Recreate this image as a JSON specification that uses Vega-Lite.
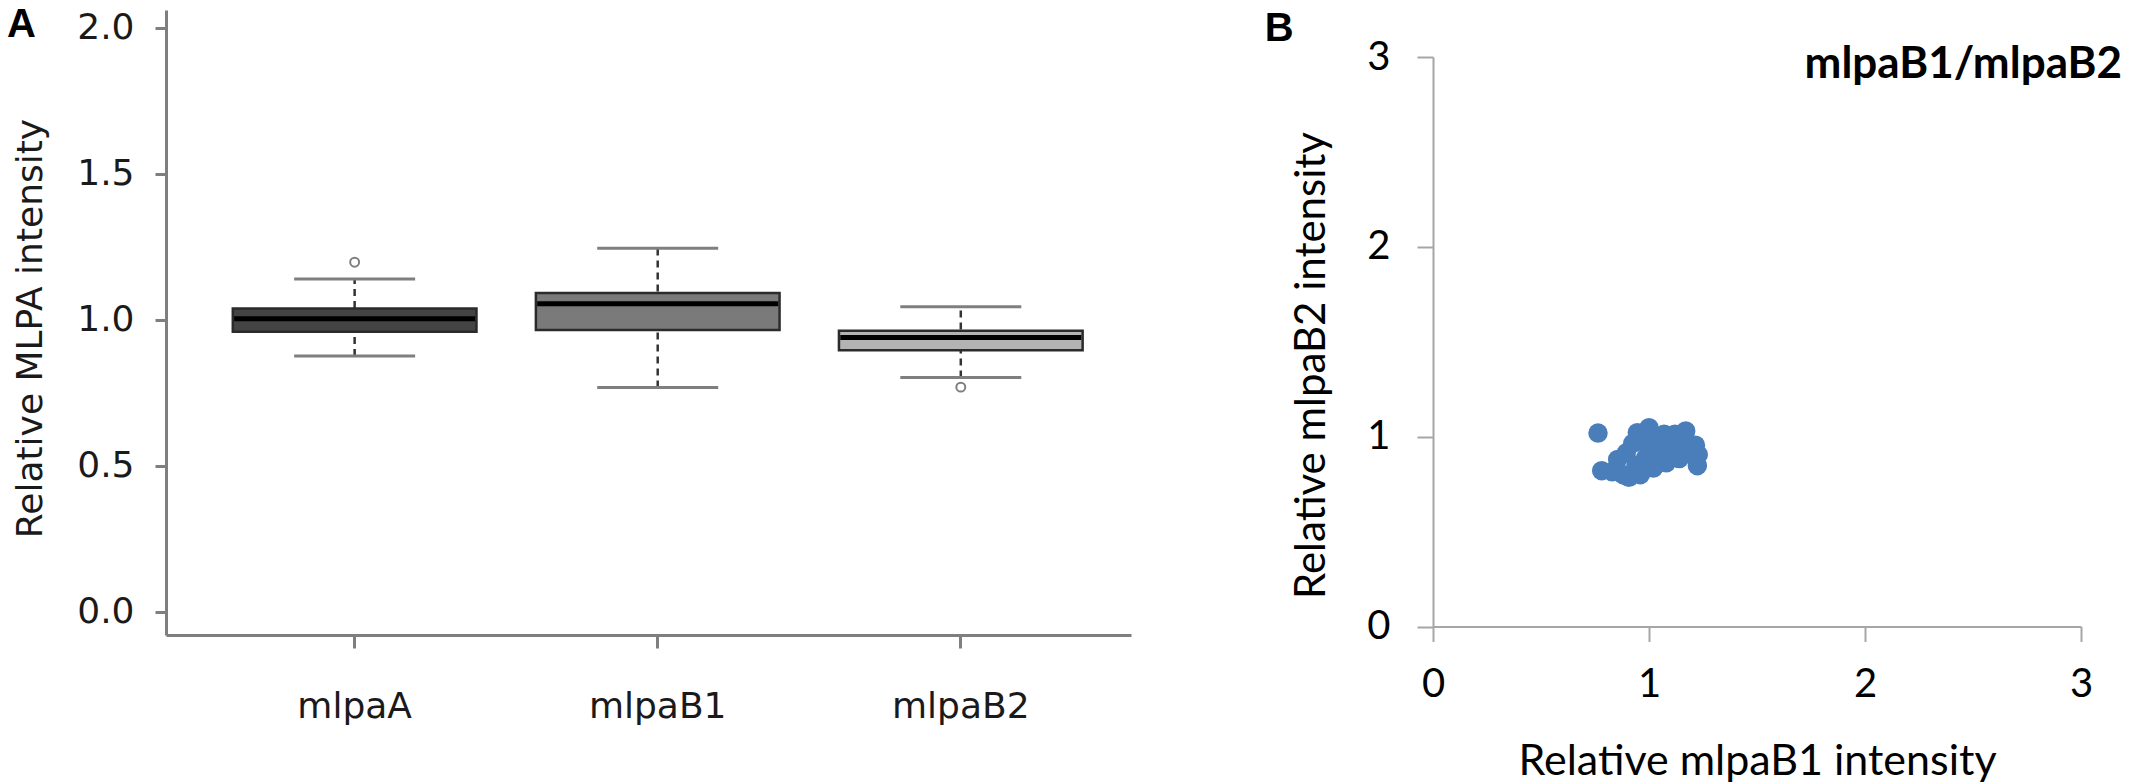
{
  "$schema": "https://vega.github.io/schema/vega-lite/v6.json",
  "background": "white",
  "padding": {"left": 7, "top": 4, "right": 0, "bottom": 0},
  "autosize": {"type": "pad"},
  "spacing": 133,
  "config": {"view": {"stroke": null}},
  "datasets": {
    "box": [
      {"gene": "mlpaA", "lower": 0.877, "q1": 0.960, "median": 1.004, "q3": 1.039, "upper": 1.140},
      {"gene": "mlpaB1", "lower": 0.769, "q1": 0.966, "median": 1.056, "q3": 1.092, "upper": 1.246},
      {"gene": "mlpaB2", "lower": 0.803, "q1": 0.896, "median": 0.940, "q3": 0.963, "upper": 1.045}
    ],
    "outliers": [
      {"gene": "mlpaA", "value": 1.198},
      {"gene": "mlpaB2", "value": 0.770}
    ],
    "scatter": [
      {"b1": 0.764, "b2": 1.019},
      {"b1": 0.781, "b2": 0.821},
      {"b1": 0.830, "b2": 0.815},
      {"b1": 0.880, "b2": 0.800},
      {"b1": 0.907, "b2": 0.786},
      {"b1": 0.960, "b2": 0.800},
      {"b1": 1.020, "b2": 0.835},
      {"b1": 1.080, "b2": 0.862},
      {"b1": 1.140, "b2": 0.885},
      {"b1": 1.224, "b2": 0.847},
      {"b1": 1.228, "b2": 0.905},
      {"b1": 1.215, "b2": 0.955},
      {"b1": 1.170, "b2": 1.030},
      {"b1": 1.120, "b2": 1.013},
      {"b1": 1.070, "b2": 1.013},
      {"b1": 1.000, "b2": 1.047},
      {"b1": 0.946, "b2": 1.021},
      {"b1": 0.925, "b2": 0.965},
      {"b1": 0.895, "b2": 0.915},
      {"b1": 0.855, "b2": 0.880},
      {"b1": 0.985, "b2": 0.970},
      {"b1": 1.050, "b2": 0.960},
      {"b1": 0.985, "b2": 0.890},
      {"b1": 1.130, "b2": 0.970},
      {"b1": 0.940, "b2": 0.850},
      {"b1": 1.030, "b2": 0.920},
      {"b1": 1.100, "b2": 0.925},
      {"b1": 1.180, "b2": 0.910},
      {"b1": 1.010, "b2": 1.000},
      {"b1": 1.160, "b2": 0.960}
    ]
  },
  "hconcat": [
    {
      "width": 965,
      "height": 625,
      "title": {"text": "A", "anchor": "start", "frame": "group", "dx": -159, "offset": -35, "font": "Liberation Sans", "fontSize": 40, "fontWeight": "bold", "color": "#000000"},
      "encoding": {
        "x": {
          "field": "gene", "type": "nominal", "sort": null,
          "scale": {"domain": ["mlpaA", "mlpaB1", "mlpaB2"], "paddingInner": 0.196, "paddingOuter": 0.19, "align": 0.58},
          "axis": {"title": null, "labelAngle": 0, "labelFont": "DejaVu Sans", "labelFontSize": 36, "labelColor": "#1a1a1a", "labelPadding": 41, "tickSize": 13, "tickWidth": 3, "tickColor": "#7f7f7f", "domainColor": "#7f7f7f", "domainWidth": 3}
        }
      },
      "layer": [
        {
          "data": {"name": "box"},
          "mark": {"type": "rule", "color": "#333333", "strokeWidth": 2.5, "strokeDash": [7, 5]},
          "encoding": {
            "y": {
              "field": "lower", "type": "quantitative",
              "scale": {"domain": [-0.0788, 2.0616], "nice": false, "zero": false},
              "axis": {"title": "Relative MLPA intensity", "values": [0, 0.5, 1, 1.5, 2], "format": ".1f", "grid": false, "labelFont": "DejaVu Sans", "labelFontSize": 36, "labelColor": "#1a1a1a", "labelPadding": 21, "labelFlush": false, "labelOverlap": false, "tickSize": 11, "tickWidth": 3, "tickColor": "#7f7f7f", "domainColor": "#7f7f7f", "domainWidth": 3, "titleFont": "DejaVu Sans", "titleFontSize": 36, "titleFontWeight": "normal", "titleColor": "#1a1a1a", "titlePadding": 27, "titleY": 318}
            },
            "y2": {"field": "upper"}
          }
        },
        {
          "data": {"name": "box"},
          "mark": {"type": "tick", "size": 121, "thickness": 3, "color": "#7f7f7f", "opacity": 1},
          "encoding": {"y": {"field": "lower", "type": "quantitative"}}
        },
        {
          "data": {"name": "box"},
          "mark": {"type": "tick", "size": 121, "thickness": 3, "color": "#7f7f7f", "opacity": 1},
          "encoding": {"y": {"field": "upper", "type": "quantitative"}}
        },
        {
          "data": {"name": "box"},
          "mark": {"type": "bar", "stroke": "#2b2b2b", "strokeWidth": 2.5, "opacity": 1},
          "encoding": {
            "y": {"field": "q1", "type": "quantitative"},
            "y2": {"field": "q3"},
            "fill": {"field": "gene", "type": "nominal", "scale": {"domain": ["mlpaA", "mlpaB1", "mlpaB2"], "range": ["#444444", "#7a7a7a", "#b3b3b3"]}, "legend": null}
          }
        },
        {
          "data": {"name": "box"},
          "mark": {"type": "tick", "size": 241, "thickness": 5, "color": "#000000", "opacity": 1},
          "encoding": {"y": {"field": "median", "type": "quantitative"}}
        },
        {
          "data": {"name": "outliers"},
          "mark": {"type": "point", "shape": "circle", "filled": false, "size": 80, "stroke": "#7f7f7f", "strokeWidth": 2, "opacity": 1},
          "encoding": {"y": {"field": "value", "type": "quantitative"}}
        }
      ]
    },
    {
      "title": {"text": "B", "anchor": "start", "frame": "bounds", "dx": -26, "offset": -39, "font": "Liberation Sans", "fontSize": 40, "fontWeight": "bold", "color": "#000000"},
      "vconcat": [
        {
          "width": 648,
          "height": 616.5,
          "data": {"name": "scatter"},
          "title": {"text": "mlpaB1/mlpaB2", "anchor": "end", "frame": "group", "dx": 41, "offset": -77, "font": "Lato", "fontSize": 44, "fontWeight": "bold", "color": "#000000"},
          "mark": {"type": "circle", "size": 380, "color": "#4a7ebb", "opacity": 1},
          "encoding": {
            "x": {
              "field": "b1", "type": "quantitative",
              "scale": {"domain": [0, 3], "nice": false, "zero": false},
              "axis": {"title": "Relative mlpaB1 intensity", "values": [0, 1, 2, 3], "format": "d", "grid": false, "labelFont": "Lato", "labelFontSize": 40, "labelColor": "#000000", "labelPadding": 23, "labelFlush": false, "labelOverlap": false, "tickSize": 15, "tickWidth": 2, "tickColor": "#a6a6a6", "domainColor": "#a6a6a6", "domainWidth": 2, "titleFont": "Lato", "titleFontSize": 43, "titleFontWeight": "normal", "titleColor": "#000000", "titlePadding": 36}
            },
            "y": {
              "field": "b2", "type": "quantitative",
              "scale": {"domain": [0, 3], "nice": false, "zero": false, "range": [616.5, 47]},
              "axis": {"title": "Relative mlpaB2 intensity", "values": [0, 1, 2, 3], "format": "d", "grid": false, "labelFont": "Lato", "labelFontSize": 40, "labelColor": "#000000", "labelPadding": 27, "labelFlush": false, "labelOverlap": false, "tickSize": 16, "tickWidth": 2, "tickColor": "#a6a6a6", "domainColor": "#a6a6a6", "domainWidth": 2, "titleFont": "Lato", "titleFontSize": 42, "titleFontWeight": "normal", "titleColor": "#000000", "titlePadding": 33, "titleY": 355}
            }
          }
        }
      ]
    }
  ]
}
